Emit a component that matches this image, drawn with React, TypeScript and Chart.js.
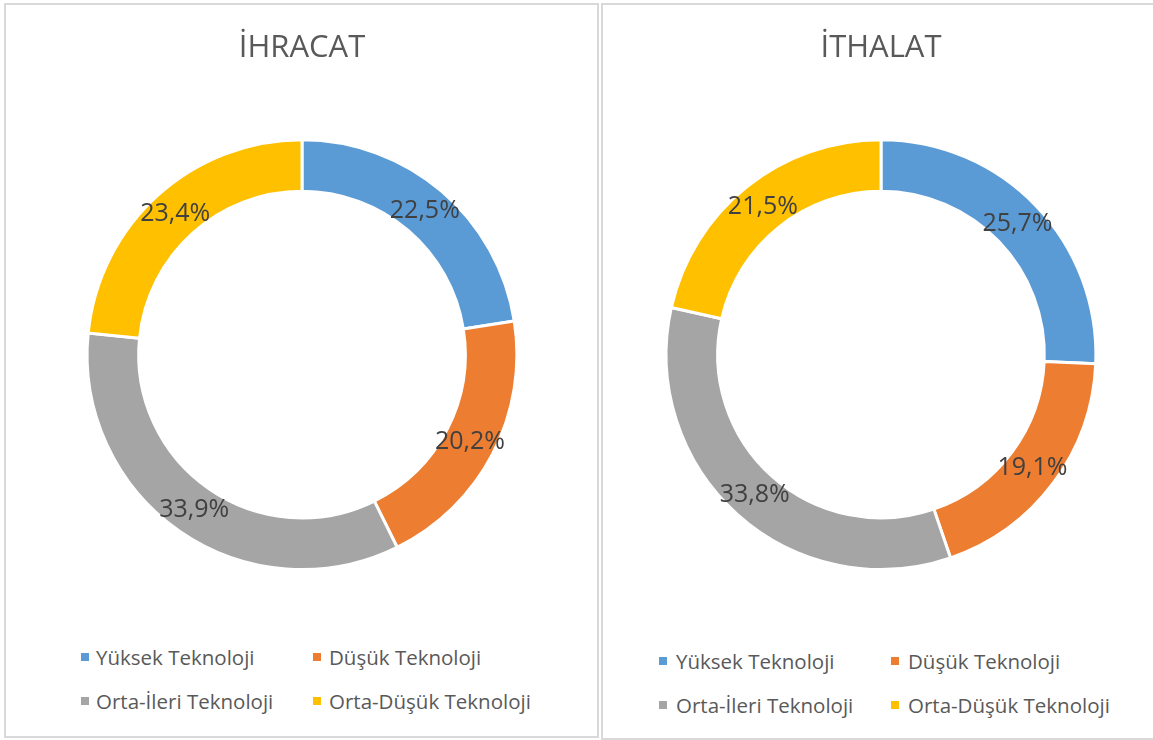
import React, { useEffect, useRef } from "react";
import { Chart, registerables } from "chart.js";

Chart.register(...registerables);

const categories = ["Yüksek Teknoloji", "Düşük Teknoloji", "Orta-İleri Teknoloji", "Orta-Düşük Teknoloji"];
const ihracatValues = [22.5, 20.2, 33.9, 23.4];
const ithalatValues = [25.7, 19.1, 33.8, 21.5];
const sliceColors = ["#5B9BD5", "#ED7D31", "#A5A5A5", "#FFC000"];
const titles = ["İHRACAT", "İTHALAT"];
// legend display order (two columns)
const legendOrder = [0, 1, 2, 3];

const FONT = "'Open Sans', 'DejaVu Sans', sans-serif";

const labelPlugin = {
  id: "sliceLabels",
  afterDatasetsDraw(chart: any) {
    const ctx = chart.ctx;
    const meta = chart.getDatasetMeta(0);
    const data = chart.data.datasets[0].data as number[];
    ctx.save();
    ctx.font = `25px ${FONT}`;
    ctx.fillStyle = "#404040";
    ctx.textAlign = "center";
    ctx.textBaseline = "middle";
    meta.data.forEach((arc: any, i: number) => {
      const p = arc.tooltipPosition();
      const txt = data[i].toFixed(1).replace(".", ",") + "%";
      ctx.fillText(txt, p.x, p.y);
    });
    ctx.restore();
  },
};

function Donut({ title, values, width }: { title: string; values: number[]; width: number }) {
  const ref = useRef<HTMLCanvasElement | null>(null);
  useEffect(() => {
    if (!ref.current) return;
    const chart = new Chart(ref.current, {
      type: "doughnut",
      data: {
        labels: categories,
        datasets: [
          {
            data: values,
            backgroundColor: sliceColors,
            borderColor: "#ffffff",
            borderWidth: 3,
          },
        ],
      },
      options: {
        responsive: false,
        animation: false,
        cutout: "76%",
        layout: { padding: { top: 0, bottom: 54, left: 0, right: 0 } },
        plugins: {
          legend: { display: false },
          tooltip: { enabled: false },
          title: {
            display: true,
            text: title,
            color: "#595959",
            font: { family: FONT, size: 31, weight: "normal", lineHeight: 1.2 },
            padding: { top: 25, bottom: 71 },
          },
        },
      },
      plugins: [labelPlugin],
    });
    return () => chart.destroy();
  }, [title, values]);
  return <canvas ref={ref} width={width} height={620} style={{ display: "block", width, height: 620 }} />;
}

function Legend({ markerX, textX, col2Marker, col2Text, rows }: any) {
  const items = legendOrder.map((idx, k) => {
    const col = k % 2;
    const row = Math.floor(k / 2);
    const mx = col === 0 ? markerX : col2Marker;
    const tx = col === 0 ? textX : col2Text;
    const cy = rows[row];
    return (
      <React.Fragment key={idx}>
        <div
          style={{
            position: "absolute",
            left: mx,
            top: cy - 4,
            width: 8,
            height: 8,
            background: sliceColors[idx],
          }}
        />
        <div
          style={{
            position: "absolute",
            left: tx,
            top: cy - 15,
            height: 30,
            lineHeight: "30px",
            fontFamily: FONT,
            fontSize: 20.5,
            color: "#595959",
            whiteSpace: "nowrap",
          }}
        >
          {categories[idx]}
        </div>
      </React.Fragment>
    );
  });
  return <>{items}</>;
}

export default function App() {
  return (
    <div
      style={{
        position: "absolute",
        left: 0,
        top: 0,
        width: 1153,
        height: 740,
        overflow: "hidden",
        background: "#ffffff",
      }}
    >
      <div
        style={{
          position: "absolute",
          left: 4,
          top: 3,
          width: 595,
          height: 735,
          boxSizing: "border-box",
          border: "2px solid #d9d9d9",
        }}
      />
      <div
        style={{
          position: "absolute",
          left: 601,
          top: 3,
          width: 600,
          height: 737,
          boxSizing: "border-box",
          border: "2px solid #d9d9d9",
        }}
      />
      <div style={{ position: "absolute", left: 6, top: 5 }}>
        <Donut title={titles[0]} values={ihracatValues} width={592} />
      </div>
      <div style={{ position: "absolute", left: 603, top: 5 }}>
        <Donut title={titles[1]} values={ithalatValues} width={556} />
      </div>
      <Legend markerX={81} textX={96} col2Marker={313} col2Text={329} rows={[657, 700.5]} />
      <Legend markerX={659} textX={676} col2Marker={891} col2Text={908} rows={[661, 705]} />
    </div>
  );
}
